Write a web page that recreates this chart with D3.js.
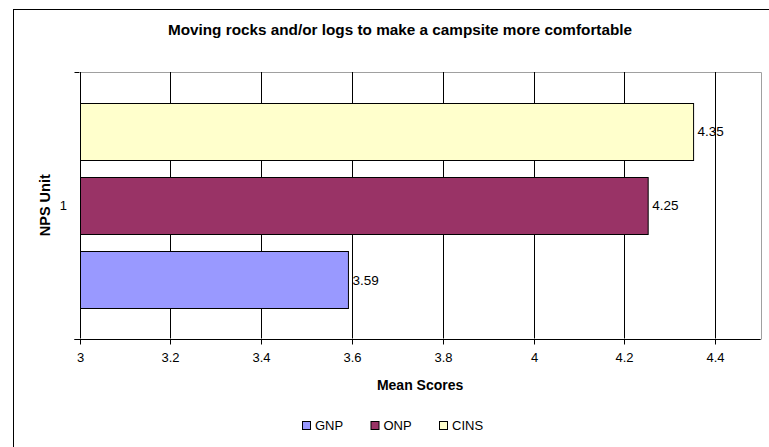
<!DOCTYPE html>
<html>
<head>
<meta charset="utf-8">
<script src="https://cdn.jsdelivr.net/npm/d3@7"></script>
<style>
  html, body { margin: 0; padding: 0; background: #fff; }
  svg { display: block; }
  text { font-family: "Liberation Sans", Arial, sans-serif; fill: #000; }
</style>
</head>
<body>
<svg id="chart" width="769" height="447"></svg>
<script>
// Mean scores per park unit (single category "1")
const categories = ["1"];
const seriesNames = ["GNP", "ONP", "CINS"];
const seriesValues = [3.59, 4.25, 4.35];
const seriesColors = ["#9999FF", "#993366", "#FFFFCC"];
const xTicks = [3, 3.2, 3.4, 3.6, 3.8, 4, 4.2, 4.4];
const xDomain = [3, 4.5];

const title = "Moving rocks and/or logs to make a campsite more comfortable";
const xTitle = "Mean Scores";
const yTitle = "NPS Unit";

const svg = d3.select("#chart");

// Outer chart frame
svg.append("rect")
  .attr("x", 13.5).attr("y", 9.5)
  .attr("width", 800).attr("height", 500)
  .attr("fill", "#fff").attr("stroke", "#000").attr("stroke-width", 1);

const plot = { left: 79.5, right: 760.7, top: 72, bottom: 338.5 };

const x = d3.scaleLinear().domain(xDomain).range([plot.left, plot.right]);
const y0 = d3.scaleBand().domain(categories).range([plot.top, plot.bottom]).padding(0);
// bars drawn top-to-bottom in reverse series order (CINS on top)
const y1 = d3.scaleBand()
  .domain(seriesNames.slice().reverse())
  .range([0, y0.bandwidth()])
  .paddingInner(0.234)
  .paddingOuter(0.411);

const crisp = v => Math.round(v) + 0.5;

// Plot frame (top and right edges in grey)
svg.append("path")
  .attr("d", `M${crisp(plot.left)},${crisp(plot.top)}H${crisp(plot.right)}V${crisp(plot.bottom)}`)
  .attr("fill", "none").attr("stroke", "#a0a0a0");

// Vertical gridlines
svg.append("g").selectAll("line")
  .data(xTicks.filter(t => t > xDomain[0]))
  .join("line")
  .attr("x1", d => crisp(x(d))).attr("x2", d => crisp(x(d)))
  .attr("y1", plot.top).attr("y2", plot.bottom)
  .attr("stroke", "#000").attr("stroke-width", 1);

// Bars with value labels
const bars = svg.append("g");
categories.forEach(cat => {
  seriesNames.forEach((name, i) => {
    const yy = y0(cat) + y1(name);
    bars.append("rect")
      .attr("x", crisp(x(xDomain[0])))
      .attr("y", Math.round(yy) + 0.5)
      .attr("width", x(seriesValues[i]) - x(xDomain[0]))
      .attr("height", Math.round(y1.bandwidth()))
      .attr("fill", seriesColors[i])
      .attr("stroke", "#000").attr("stroke-width", 1);
    bars.append("text")
      .attr("x", x(seriesValues[i]) + 5)
      .attr("y", yy + y1.bandwidth() / 2 + 5)
      .attr("font-size", "13.5px")
      .text(seriesValues[i]);
  });
});

// X axis
const xAxis = d3.axisBottom(x).tickValues(xTicks).tickSize(5).tickPadding(8)
  .tickFormat(d3.format("~g"));
const gx = svg.append("g")
  .attr("transform", `translate(0,${crisp(plot.bottom)})`)
  .call(xAxis);
gx.select(".domain").remove();
gx.selectAll(".tick").attr("transform", d => `translate(${crisp(x(d))},0)`);
gx.selectAll(".tick line").attr("stroke", "#000");
gx.selectAll(".tick text")
  .attr("font-size", "13px")
  .attr("font-family", "Liberation Sans, Arial, sans-serif")
  .attr("fill", "#000");
gx.append("line")
  .attr("x1", plot.left - 5).attr("x2", plot.right)
  .attr("y1", 0).attr("y2", 0)
  .attr("stroke", "#000");

// Y axis: line with ticks at category boundaries
const gy = svg.append("g");
gy.append("line")
  .attr("x1", crisp(plot.left)).attr("x2", crisp(plot.left))
  .attr("y1", plot.top).attr("y2", plot.bottom)
  .attr("stroke", "#000");
[plot.top, plot.bottom].forEach(v => {
  gy.append("line")
    .attr("x1", plot.left - 5).attr("x2", plot.left)
    .attr("y1", crisp(v)).attr("y2", crisp(v))
    .attr("stroke", "#000");
});
gy.selectAll("text.cat")
  .data(categories)
  .join("text")
  .attr("class", "cat")
  .attr("x", 67)
  .attr("y", d => y0(d) + y0.bandwidth() / 2 + 4.5)
  .attr("text-anchor", "end")
  .attr("font-size", "13px")
  .text(d => d);

// Titles
svg.append("text")
  .attr("x", 400).attr("y", 35)
  .attr("text-anchor", "middle")
  .attr("font-size", "15.3px").attr("font-weight", "bold")
  .text(title);

svg.append("text")
  .attr("x", (plot.left + plot.right) / 2).attr("y", 389.5)
  .attr("text-anchor", "middle")
  .attr("font-size", "14px").attr("font-weight", "bold")
  .text(xTitle);

svg.append("text")
  .attr("transform", `translate(50,${(plot.top + plot.bottom) / 2}) rotate(-90)`)
  .attr("text-anchor", "middle")
  .attr("font-size", "14.5px").attr("font-weight", "bold")
  .text(yTitle);

// Legend
const legend = svg.append("g").attr("transform", "translate(302,421)");
const items = legend.selectAll("g")
  .data(seriesNames)
  .join("g")
  .attr("transform", (d, i) => `translate(${[0, 68.5, 137][i]},0)`);
items.append("rect")
  .attr("x", 0.5).attr("y", 0.5)
  .attr("width", 8).attr("height", 8)
  .attr("fill", (d, i) => seriesColors[i])
  .attr("stroke", "#000");
items.append("text")
  .attr("x", 13).attr("y", 8.5)
  .attr("font-size", "13px")
  .text(d => d);
</script>
</body>
</html>
